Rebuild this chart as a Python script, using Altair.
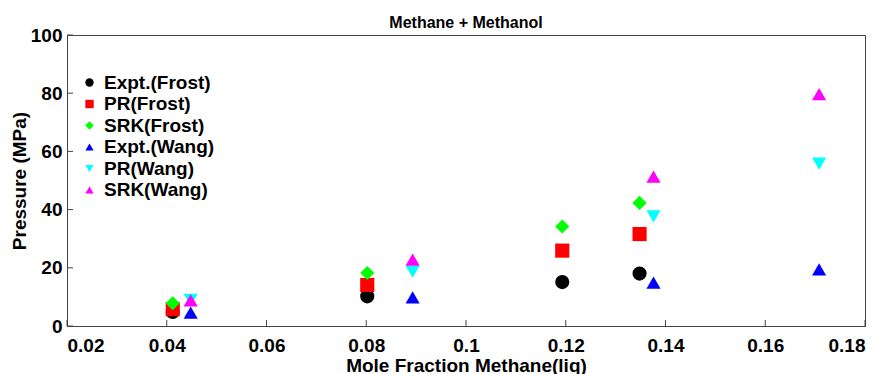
import altair as alt
import pandas as pd

series = ["Expt.(Frost)", "PR(Frost)", "SRK(Frost)", "Expt.(Wang)", "PR(Wang)", "SRK(Wang)"]
colors = ["#000000", "#ff0000", "#00ff00", "#0000ff", "#00ffff", "#ff00ff"]
shapes = ["circle", "square", "diamond", "triangle-up", "triangle-down", "triangle-up"]

frost_x = [0.0412, 0.0802, 0.1193, 0.1348]
expt_frost = [4.8, 10.2, 15.1, 18.0]
pr_frost = [5.8, 14.1, 25.9, 31.6]
srk_frost = [7.8, 18.2, 34.2, 42.3]

wang_x = [0.0448, 0.0893, 0.1376, 0.1708]
expt_wang = [4.6, 9.8, 14.9, 19.5]
pr_wang = [9.0, 18.7, 37.7, 55.8]
srk_wang = [8.8, 22.8, 51.3, 79.7]

x_ticks = [0.02, 0.04, 0.06, 0.08, 0.10, 0.12, 0.14, 0.16, 0.18]
y_ticks = [0, 20, 40, 60, 80, 100]

rows = []
for name, xs, ys in [
    (series[0], frost_x, expt_frost),
    (series[1], frost_x, pr_frost),
    (series[2], frost_x, srk_frost),
    (series[3], wang_x, expt_wang),
    (series[4], wang_x, pr_wang),
    (series[5], wang_x, srk_wang),
]:
    for xv, yv in zip(xs, ys):
        rows.append({"series": name, "x": xv, "y": yv, "order": series.index(name)})
df = pd.DataFrame(rows)

W, H = 798, 291
FONT = "Liberation Sans"

xscale = alt.Scale(domain=[0.02, 0.18], nice=False)
yscale = alt.Scale(domain=[0, 100], nice=False)

legend = alt.Legend(
    title=None, orient="none", legendX=13, legendY=38, padding=0,
    labelFont=FONT, labelFontSize=19, labelFontWeight="bold", labelColor="#000",
    symbolSize=70, symbolStrokeWidth=0, rowPadding=1.5, labelOffset=5,
)

points = alt.Chart(df).mark_point(filled=True, size=200, opacity=1).encode(
    x=alt.X("x:Q", scale=xscale, title="Mole Fraction Methane(liq)",
            axis=alt.Axis(values=x_ticks, format="~g", tickSize=0, grid=False,
                          labelPadding=10, titlePadding=1)),
    y=alt.Y("y:Q", scale=yscale, title="Pressure (MPa)",
            axis=alt.Axis(values=y_ticks, tickSize=0, grid=False, labelPadding=5,
                          titlePadding=1)),
    color=alt.Color("series:N", scale=alt.Scale(domain=series, range=colors), legend=legend),
    shape=alt.Shape("series:N", scale=alt.Scale(domain=series, range=shapes), legend=legend),
    order=alt.Order("order:Q"),
)

xt = alt.Chart(pd.DataFrame({"v": x_ticks})).mark_rule(color="#444", strokeWidth=1).encode(
    x=alt.X("v:Q", scale=xscale), y=alt.value(H), y2=alt.value(H - 6)
)
yt = alt.Chart(pd.DataFrame({"v": y_ticks})).mark_rule(color="#444", strokeWidth=1).encode(
    y=alt.Y("v:Q", scale=yscale), x=alt.value(0), x2=alt.value(6)
)

chart = alt.layer(points, xt, yt).properties(
    width=W, height=H,
    title=alt.TitleParams("Methane + Methanol", font=FONT, fontSize=16, fontWeight="bold",
                          anchor="middle", offset=6, dy=11, color="#000"),
    autosize=alt.AutoSizeParams(type="none"),
    padding={"left": 59, "top": 27, "right": 15, "bottom": 70},
).configure_view(stroke="#444", strokeWidth=1).configure_axis(
    domainColor="#444", labelFont=FONT, labelFontSize=19, labelFontWeight="bold",
    labelColor="#000", titleFont=FONT, titleFontSize=19, titleFontWeight="bold",
    titleColor="#000",
)

chart.save("out.html", embed_options={"renderer": "svg", "actions": False})
